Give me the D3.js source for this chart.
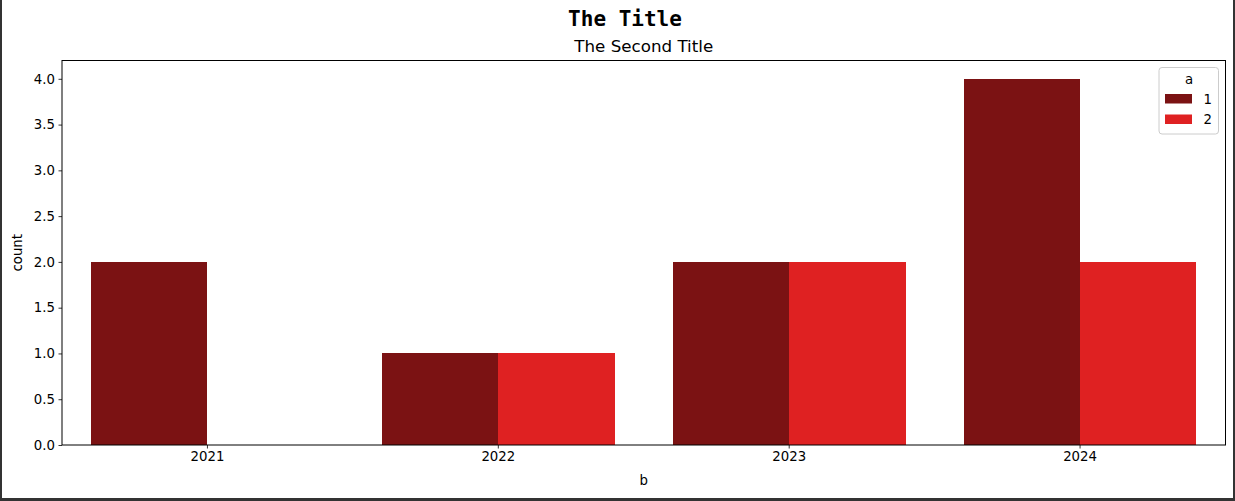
<!DOCTYPE html>
<html><head><meta charset="utf-8">
<script src="https://cdn.jsdelivr.net/npm/d3@7"></script>
<style>body{margin:0;background:#fff;}svg{display:block;}</style>
</head><body>
<script>
const categories = ["2021","2022","2023","2024"];
const hueLevels = ["1","2"];
const series1 = [2, 1, 2, 4];
const series2 = [0, 1, 2, 2];
const yTicks = [0,0.5,1,1.5,2,2.5,3,3.5,4];
const colors = ["#7b1213","#df2122"];

const W = 1235, H = 501;
const svg = d3.select("body").append("svg").attr("width", W).attr("height", H);
svg.append("rect").attr("width", W).attr("height", H).attr("fill", "#fff");

const m = {l: 62, r: 1225.5, t: 60.5, b: 445};
const x = d3.scaleBand().domain(categories).range([m.l, m.r]).paddingInner(0.2).paddingOuter(0.1);
const y = d3.scaleLinear().domain([0, 4.2]).range([m.b, m.t]);
const xs = d3.scaleBand().domain(hueLevels).range([0, x.bandwidth()]);

const data = [series1, series2];
const g = svg.append("g").attr("shape-rendering", "crispEdges");
hueLevels.forEach((h, hi) => {
  g.selectAll(null).data(categories).enter().append("rect")
    .attr("x", c => x(c) + xs(h))
    .attr("width", xs.bandwidth())
    .attr("y", (c, i) => y(data[hi][i]))
    .attr("height", (c, i) => y(0) - y(data[hi][i]))
    .attr("fill", colors[hi]);
});

const font = "DejaVu Sans, sans-serif";
const yAxis = svg.append("g").attr("transform", `translate(${m.l},0)`)
  .call(d3.axisLeft(y).tickValues(yTicks).tickFormat(d3.format(".1f")).tickSizeOuter(0).tickSize(3.5).tickPadding(3.5));
const xAxis = svg.append("g").attr("transform", `translate(0,${m.b})`)
  .call(d3.axisBottom(x).tickSizeOuter(0).tickSize(3.5).tickPadding(3.5));
[xAxis, yAxis].forEach(a => {
  a.selectAll("text").attr("font-family", font).attr("font-size", 13.3).attr("fill", "#000");
  a.selectAll("line").attr("stroke", "#000").attr("stroke-width", 0.8);
  a.select(".domain").remove();
});

svg.append("rect").attr("x", m.l).attr("y", m.t).attr("width", m.r - m.l).attr("height", m.b - m.t)
  .attr("fill", "none").attr("stroke", "#000").attr("stroke-width", 1);

svg.append("text").attr("x", 625).attr("y", 26).attr("text-anchor", "middle")
  .attr("font-family", "DejaVu Sans Mono, monospace").attr("font-weight", "bold").attr("font-size", 21)
  .text("The Title");
svg.append("text").attr("x", (m.l + m.r) / 2).attr("y", 52).attr("text-anchor", "middle")
  .attr("font-family", font).attr("font-size", 16.7).text("The Second Title");
svg.append("text").attr("x", (m.l + m.r) / 2).attr("y", 485).attr("text-anchor", "middle")
  .attr("font-family", font).attr("font-size", 13.3).text("b");
svg.append("text").attr("transform", `translate(22,${(m.t + m.b) / 2}) rotate(-90)`).attr("text-anchor", "middle")
  .attr("font-family", font).attr("font-size", 13.3).text("count");

// legend
const lg = svg.append("g");
lg.append("rect").attr("x", 1159).attr("y", 67.5).attr("width", 59.5).attr("height", 66.5).attr("rx", 3)
  .attr("fill", "#fff").attr("fill-opacity", 0.8).attr("stroke", "#ccc").attr("stroke-width", 1);
lg.append("text").attr("x", 1189).attr("y", 84).attr("text-anchor", "middle")
  .attr("font-family", font).attr("font-size", 13.3).text("a");
hueLevels.forEach((h, i) => {
  lg.append("rect").attr("x", 1165).attr("y", 94 + i * 20.5).attr("width", 27).attr("height", 9.5).attr("fill", colors[i]);
  lg.append("text").attr("x", 1203.5).attr("y", 103.5 + i * 20.5).attr("font-family", font).attr("font-size", 13.3).text(h);
});

// figure frame
svg.append("rect").attr("x", 0).attr("y", 0).attr("width", 2).attr("height", H).attr("fill", "#333");
svg.append("rect").attr("x", 1233).attr("y", 0).attr("width", 2).attr("height", H).attr("fill", "#333");
svg.append("rect").attr("x", 0).attr("y", 498).attr("width", W).attr("height", 3).attr("fill", "#333");
</script>
</body></html>
